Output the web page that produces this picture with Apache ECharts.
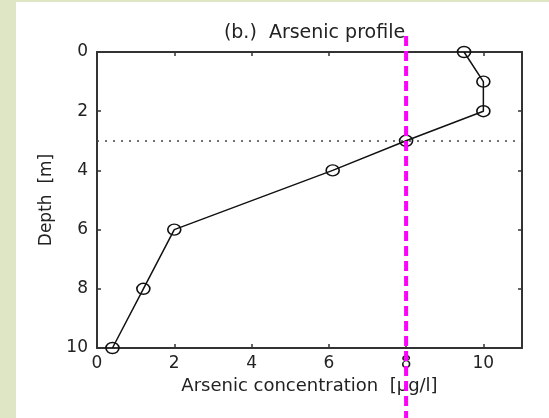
<!DOCTYPE html>
<html><head><meta charset="utf-8">
<script src="https://cdn.jsdelivr.net/npm/echarts@6/dist/echarts.min.js"></script>
<style>
html,body{margin:0;padding:0;background:#dfe6c5;}
#page{position:relative;width:549px;height:418px;background:#dfe6c5;overflow:hidden;}
#chart{position:absolute;left:16px;top:2px;width:533px;height:416px;background:#fff;}
</style></head><body>
<div id="page"><div id="chart"></div></div>
<script>
// ---- data ----
const depthM = [0, 1, 2, 3, 4, 6, 8, 10];
const arsenicUgL = [9.5, 10, 10, 8, 6.1, 2, 1.2, 0.4];
const waterTableDepth = [3];
const limitValue = [8];
const titleText = '(b.)  Arsenic profile';
const xName = 'Arsenic concentration  [\u00b5g/l]';
const yName = 'Depth  [m]';

const FONT = 'DejaVu Sans';
const TXT = '#222';
const AX = '#333';

const chart = echarts.init(document.getElementById('chart'), null, {renderer: 'canvas'});

const points = depthM.map((d, i) => [arsenicUgL[i], d]);

const baseX = {
  type: 'value', min: 0, max: 11, interval: 2,
  splitLine: {show: false},
  axisLine: {show: true, onZero: false, lineStyle: {color: AX, width: 2}},
  axisTick: {show: true, inside: true, length: 4, lineStyle: {color: AX, width: 1.5}}
};
const baseY = {
  type: 'value', min: 0, max: 10, interval: 2, inverse: true,
  splitLine: {show: false},
  axisLine: {show: true, onZero: false, lineStyle: {color: AX, width: 2}},
  axisTick: {show: true, inside: true, length: 4, lineStyle: {color: AX, width: 1.5}}
};

chart.setOption({
  animation: false,
  backgroundColor: 'transparent',
  title: {
    text: titleText, left: 293.5, top: 17, textAlign: 'center',
    textStyle: {fontFamily: FONT, fontSize: 19, fontWeight: 'normal', color: TXT}
  },
  grid: {left: 81, top: 50, width: 425, height: 296},
  xAxis: [
    Object.assign({}, baseX, {
      position: 'bottom',
      name: xName, nameLocation: 'middle', nameGap: 23,
      nameTextStyle: {fontFamily: FONT, fontSize: 18, color: TXT, verticalAlign: 'top'},
      axisLabel: {fontFamily: FONT, fontSize: 17, color: TXT, margin: 7, showMaxLabel: false}
    }),
    Object.assign({}, baseX, {position: 'top', axisLabel: {show: false}})
  ],
  yAxis: [
    Object.assign({}, baseY, {
      position: 'left',
      name: yName, nameLocation: 'middle', nameGap: 41, nameRotate: 90,
      nameTextStyle: {fontFamily: FONT, fontSize: 17, color: TXT},
      axisLabel: {fontFamily: FONT, fontSize: 17, color: TXT, margin: 9}
    }),
    Object.assign({}, baseY, {position: 'right', axisLabel: {show: false}})
  ],
  series: [{
    type: 'line',
    xAxisIndex: 0, yAxisIndex: 0,
    data: points,
    symbol: 'circle',
    symbolSize: [13, 11],
    itemStyle: {color: 'rgba(0,0,0,0)', borderColor: '#111', borderWidth: 1.5},
    lineStyle: {color: '#111', width: 1.5},
    z: 5,
    markLine: {
      silent: true, symbol: 'none', label: {show: false},
      lineStyle: {color: '#444', width: 1.5, type: [2, 6]},
      data: waterTableDepth.map(v => ({yAxis: v}))
    }
  }]
});

const px = chart.convertToPixel({xAxisIndex: 0}, limitValue[0]);
chart.setOption({
  graphic: [{
    type: 'line', z: 100, silent: true,
    shape: {x1: px, y1: 34, x2: px, y2: 416},
    style: {stroke: '#ff00ff', lineWidth: 4, lineDash: [10, 5]}
  }]
});
</script>
</body></html>
